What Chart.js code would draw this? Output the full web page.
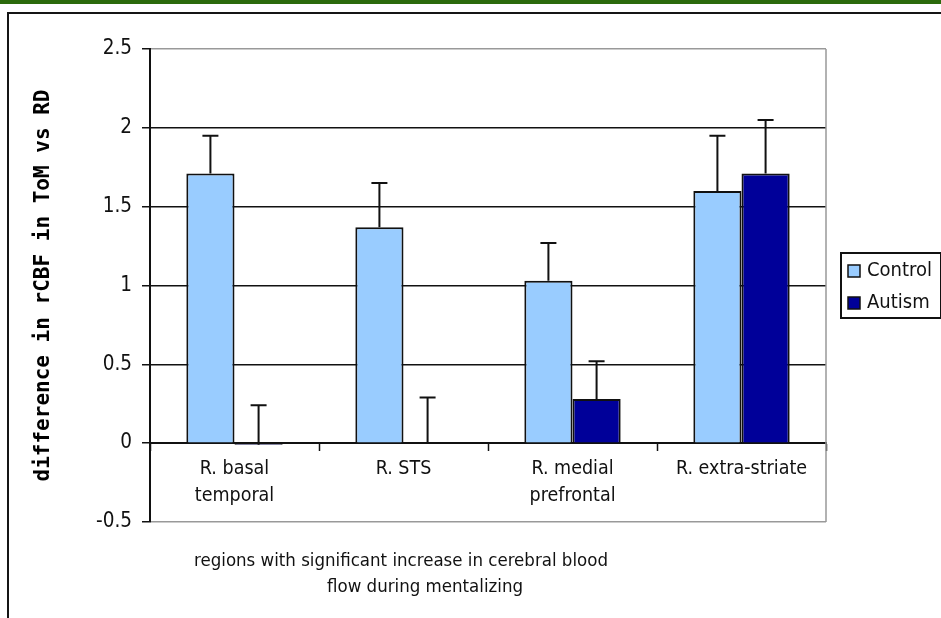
<!DOCTYPE html>
<html>
<head>
<meta charset="utf-8">
<script src="https://cdn.jsdelivr.net/npm/chart.js@4/dist/chart.umd.min.js"></script>
<style>
  html, body { margin: 0; padding: 0; background: #fff; }
  #wrap { position: relative; width: 941px; height: 618px; overflow: hidden; }
  #green { position: absolute; left: 0; top: 0; width: 941px; height: 4px; background: #2b6a0c; }
  #frame { position: absolute; left: 7px; top: 12px; width: 980px; height: 660px; border: 2px solid #151515; }
  canvas { position: absolute; left: 0; top: 0; }
</style>
</head>
<body>
<div id="wrap">
  <div id="green"></div>
  <div id="frame"></div>
  <canvas id="chart" width="941" height="618"></canvas>
</div>
<script>
const categories = [['R. basal', 'temporal'], 'R. STS', ['R. medial', 'prefrontal'], 'R. extra-striate'];
const seriesNames = ['Control', 'Autism'];
const controlValues = [1.71, 1.37, 1.03, 1.60];
const controlErrors = [0.24, 0.28, 0.24, 0.35];
const autismValues = [-0.01, 0, 0.28, 1.71];
const autismErrors = [0.25, 0.29, 0.24, 0.34];
const yTitle = 'difference in rCBF in ToM vs RD';
const xTitle = ['regions with significant increase in cerebral blood', 'flow during mentalizing'];

const FONT = '"DejaVu Sans Condensed", "DejaVu Sans", sans-serif';
const colors = ['#99ccff', '#000099'];

// error bars, upward only
const errorBars = {
  id: 'errorBars',
  afterDatasetsDraw(chart) {
    const ctx = chart.ctx;
    const y = chart.scales.y;
    ctx.save();
    ctx.strokeStyle = '#111';
    ctx.lineWidth = 2;
    chart.data.datasets.forEach((ds, i) => {
      chart.getDatasetMeta(i).data.forEach((bar, j) => {
        const y0 = y.getPixelForValue(ds.data[j]);
        const y1 = y.getPixelForValue(ds.data[j] + ds.errors[j]);
        ctx.beginPath();
        ctx.moveTo(bar.x, y0);
        ctx.lineTo(bar.x, y1);
        ctx.moveTo(bar.x - 8, y1);
        ctx.lineTo(bar.x + 8, y1);
        ctx.stroke();
      });
    });
    ctx.restore();
  }
};

// plot frame on the right, legend box and x title
const extras = {
  id: 'extras',
  afterDraw(chart) {
    const ctx = chart.ctx;
    const a = chart.chartArea;
    ctx.save();
    ctx.strokeStyle = '#999';
    ctx.lineWidth = 1.5;
    ctx.beginPath();
    ctx.moveTo(a.right, a.top);
    ctx.lineTo(a.right, a.bottom);
    ctx.stroke();

    // legend
    ctx.strokeStyle = '#111';
    ctx.lineWidth = 2;
    ctx.strokeRect(841, 253, 100, 65);
    ctx.font = '20px ' + FONT;
    ctx.textBaseline = 'middle';
    ctx.textAlign = 'left';
    ctx.fillStyle = '#111';
    chart.data.datasets.forEach((ds, i) => {
      const yy = 271 + i * 32;
      ctx.fillStyle = ds.backgroundColor;
      ctx.fillRect(848, yy - 6, 12, 12);
      ctx.lineWidth = 1.5;
      ctx.strokeRect(848, yy - 6, 12, 12);
      ctx.fillStyle = '#111';
      ctx.fillText(ds.label, 867, yy);
    });

    // x title
    ctx.font = '18.5px ' + FONT;
    ctx.textAlign = 'center';
    ctx.fillText(xTitle[0], a.left + 251, 561);
    ctx.fillText(xTitle[1], a.left + 275, 587);
    ctx.restore();
  }
};

new Chart(document.getElementById('chart'), {
  type: 'bar',
  data: {
    labels: categories,
    datasets: [
      { label: seriesNames[0], data: controlValues, errors: controlErrors, backgroundColor: colors[0], borderColor: '#111', borderWidth: 2 },
      { label: seriesNames[1], data: autismValues, errors: autismErrors, backgroundColor: colors[1], borderColor: '#111', borderWidth: 2 }
    ]
  },
  options: {
    responsive: false,
    animation: false,
    categoryPercentage: 0.57,
    barPercentage: 1.0,
    layout: { padding: { left: 10, top: 49, right: 115, bottom: 96 } },
    plugins: { legend: { display: false }, tooltip: { enabled: false } },
    scales: {
      x: {
        position: { y: 0 },
        grid: { drawOnChartArea: false, drawTicks: true, tickLength: 7, tickColor: '#111', tickWidth: 1.5, offset: true },
        border: { color: '#111', width: 2 },
        ticks: { color: '#111', padding: 6, font: { family: FONT, size: 19.5, lineHeight: 1.35 }, maxRotation: 0, autoSkip: false }
      },
      y: {
        min: -0.5,
        max: 2.5,
        ticks: { stepSize: 0.5, color: '#111', padding: 10, font: { family: FONT, size: 20.5 }, callback: v => String(v) },
        grid: {
          color: c => (c.tick && (c.tick.value === 2.5 || c.tick.value === -0.5)) ? '#999' : '#111',
          lineWidth: 1.5,
          tickColor: '#111',
          tickLength: 8
        },
        border: { color: '#111', width: 2 },
        title: {
          display: true,
          text: yTitle,
          color: '#000',
          padding: { top: 21, bottom: 0 },
          font: { family: '"DejaVu Sans Mono", monospace', weight: 'bold', size: 21 }
        },
        afterFit: s => { s.width = 140; }
      }
    }
  },
  plugins: [errorBars, extras]
});
</script>
</body>
</html>
